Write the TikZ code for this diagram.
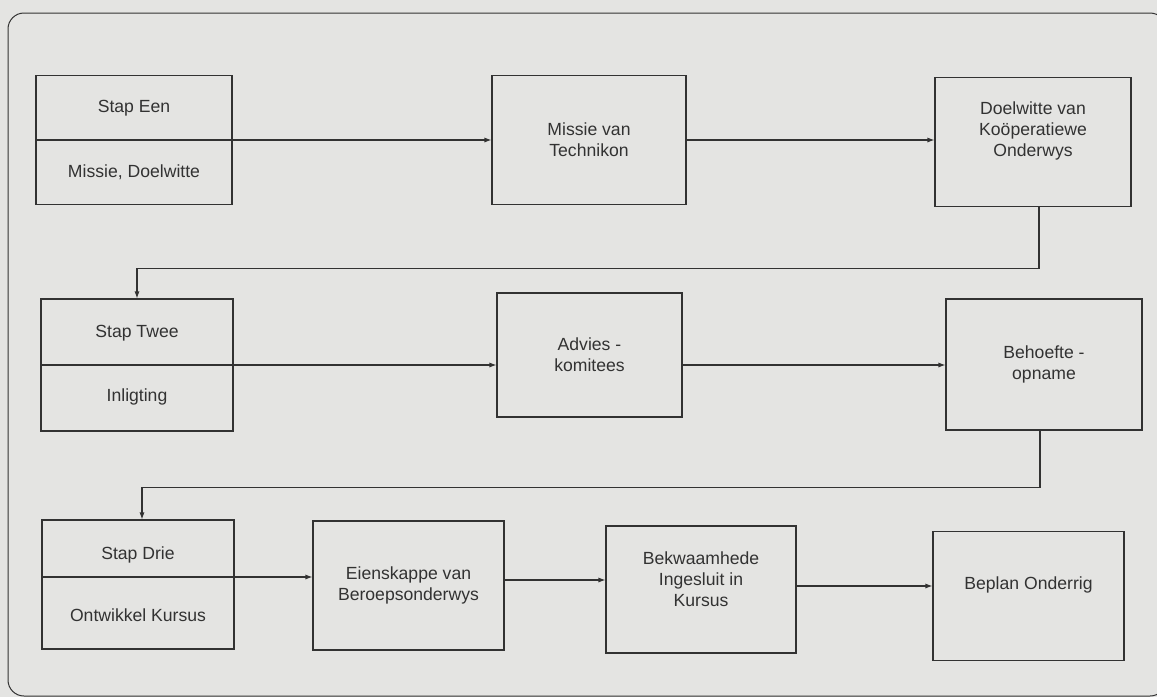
\documentclass[tikz,border=0pt]{standalone}
\usepackage{fontspec}
\setmainfont{Liberation Sans}
\usetikzlibrary{arrows.meta}
\definecolor{papier}{RGB}{228,228,226}
\definecolor{ink}{RGB}{50,50,50}

\begin{document}
\begin{tikzpicture}
[x=0.5pt,y=-0.5pt,line width=0.6pt,%
  every node/.style={font=\fontsize{8.8}{10.5}\selectfont,text=ink},%
  blok/.style={draw=ink,rectangle,align=center,inner sep=1pt,minimum width=97pt,minimum height=64.5pt},%
  pyl/.style={draw=ink,-{Latex[length=3.5pt,width=2.6pt]}}]
\clip (0,0) rectangle (1157,697);
\fill[papier] (0,0) rectangle (1157,697);
\draw[ink,line width=0.5pt,rounded corners=8pt] (8,13) rectangle (1166,696);
\node[blok,minimum width=98pt] (een) at (134,140) {Stap Een\\[22pt]Missie, Doelwitte};
\node[blok] (missie) at (589,140) {Missie van\\Technikon};
\node[blok,minimum width=98pt,text depth=13pt] (doel) at (1033,142) {Doelwitte van\\Koöperatiewe\\Onderwys};
\node[blok,minimum width=96pt,minimum height=66pt] (twee) at (137,365) {Stap Twee\\[21.5pt]Inligting};
\node[blok,minimum width=92.5pt,minimum height=62pt] (advies) at (589.5,355) {Advies -\\komitees};
\node[blok,minimum width=98pt,minimum height=65.5pt] (behoefte) at (1044,364.5) {Behoefte -\\opname};
\node[blok,minimum width=96pt] (drie) at (138,584.5) {Stap Drie\\[20.5pt]Ontwikkel Kursus};
\node[blok,minimum width=95.5pt] (eiensk) at (408.5,585.5) {Eienskappe van\\Beroepsonderwys};
\node[blok,minimum width=95pt,minimum height=63.5pt,text depth=10.5pt] (bekwaam) at (701,589.5) {Bekwaamhede\\Ingesluit in\\Kursus};
\node[blok,minimum width=95.5pt,text depth=13pt] (beplan) at (1028.5,596) {Beplan Onderrig};
\draw[pyl] (een.west) -- (missie.west);
\draw[pyl] (missie.east) -- (missie.east -| doel.west);
\draw[pyl] ([xshift=3pt]doel.south) -- ++(0,61) -| (twee.north);
\draw[pyl] (twee.west) -- (twee.west -| advies.west);
\draw[pyl] (twee.west -| advies.east) -- (twee.west -| behoefte.west);
\draw[pyl] ([xshift=-2pt]behoefte.south) -- ++(0,57) -| ([xshift=2pt]drie.north);
\draw[pyl] ([yshift=3.75pt]drie.west) -- ([yshift=3.75pt]drie.west -| eiensk.west);
\draw[pyl] ([yshift=2.75pt]eiensk.east) -- ([yshift=2.75pt]eiensk.east -| bekwaam.west);
\draw[pyl] ([yshift=1.75pt]bekwaam.east) -- ([yshift=1.75pt]bekwaam.east -| beplan.west);
\end{tikzpicture}
\end{document}
